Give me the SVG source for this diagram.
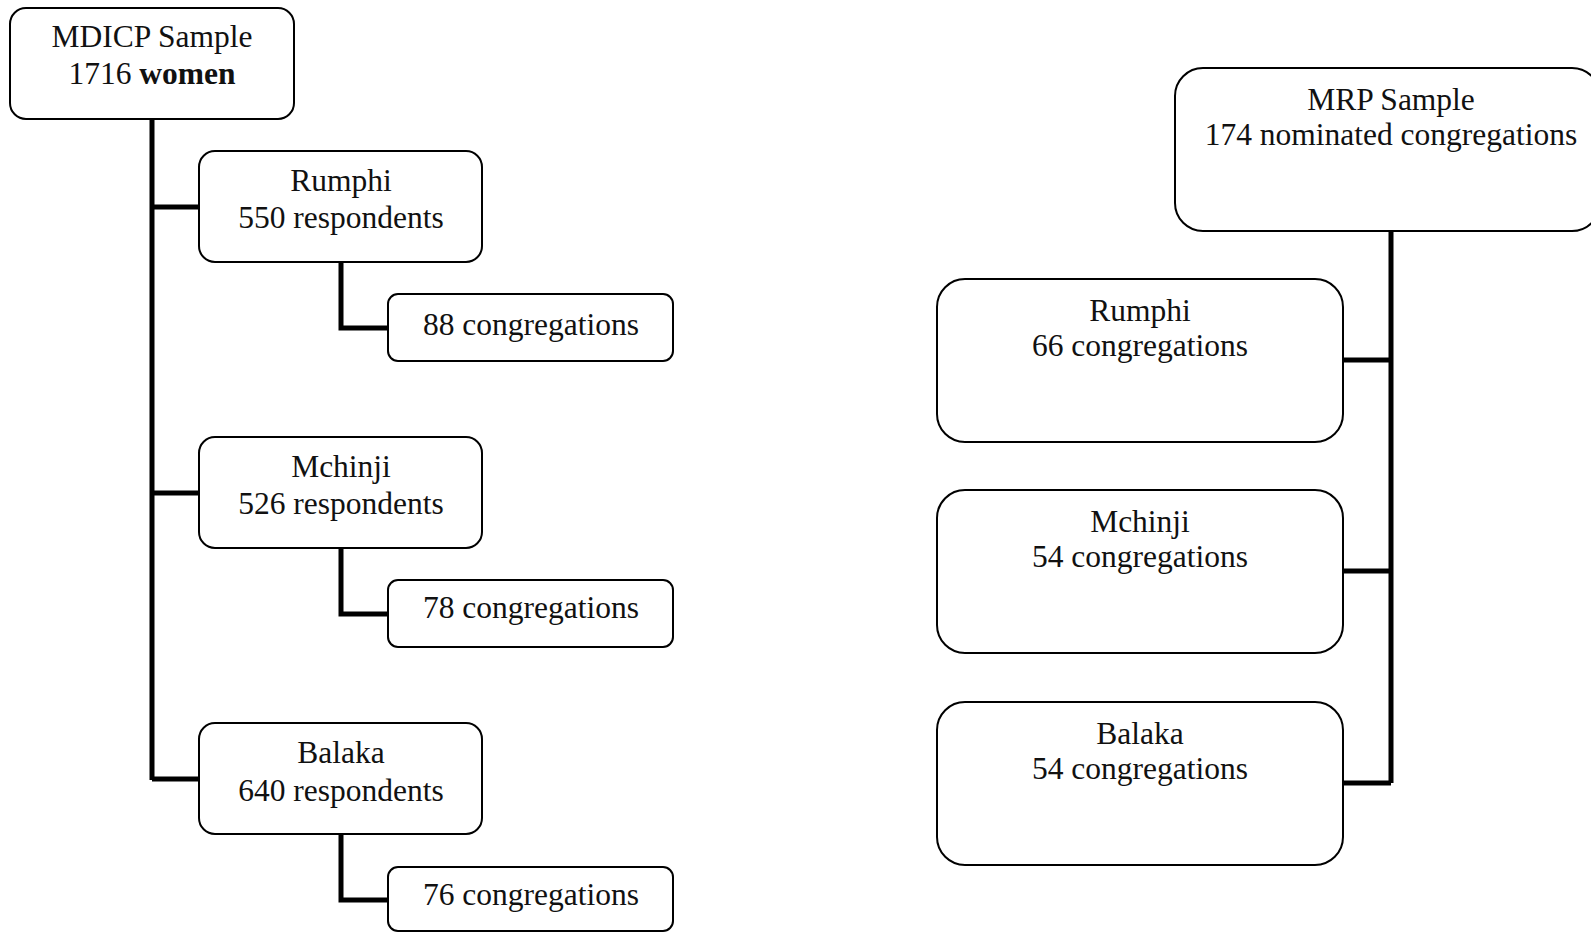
<svg xmlns="http://www.w3.org/2000/svg" width="1591" height="932" viewBox="0 0 1591 932">
<style>
.box{fill:#fff;stroke:#000;stroke-width:2}
.t{font-family:"Liberation Serif","Times New Roman",serif;font-size:31.5px;fill:#111;text-anchor:middle}
.b{font-weight:bold}
.c{fill:none;stroke:#000;stroke-width:5;stroke-linejoin:miter}
</style>
<rect width="1591" height="932" fill="#fff"/>
<g id="connectors">
<path class="c" d="M152,119 V780 M152,207 H199 M152,493 H199 M152,779 H199"/>
<path class="c" d="M341,262 V328 H388"/>
<path class="c" d="M341,548 V614 H388"/>
<path class="c" d="M341,834 V900 H388"/>
<path class="c" d="M1391,231 V783 M1343,360 H1391 M1343,571 H1391 M1343,783 H1391"/>
</g>
<g id="mdicp">
<rect class="box" x="10" y="8" width="284" height="111" rx="16"/>
<text class="t" x="152" y="47">MDICP Sample</text>
<text class="t" x="152" y="84">1716 <tspan class="b">women</tspan></text>
</g>
<g id="rumphi-l">
<rect class="box" x="199" y="151" width="283" height="111" rx="16"/>
<text class="t" x="341" y="191">Rumphi</text>
<text class="t" x="341" y="228">550 respondents</text>
</g>
<g id="rumphi-l-cong">
<rect class="box" x="388" y="294" width="285" height="67" rx="10"/>
<text class="t" x="531" y="335">88 congregations</text>
</g>
<g id="mchinji-l">
<rect class="box" x="199" y="437" width="283" height="111" rx="16"/>
<text class="t" x="341" y="477">Mchinji</text>
<text class="t" x="341" y="514">526 respondents</text>
</g>
<g id="mchinji-l-cong">
<rect class="box" x="388" y="580" width="285" height="67" rx="10"/>
<text class="t" x="531" y="618">78 congregations</text>
</g>
<g id="balaka-l">
<rect class="box" x="199" y="723" width="283" height="111" rx="16"/>
<text class="t" x="341" y="763">Balaka</text>
<text class="t" x="341" y="801">640 respondents</text>
</g>
<g id="balaka-l-cong">
<rect class="box" x="388" y="867" width="285" height="64" rx="10"/>
<text class="t" x="531" y="905">76 congregations</text>
</g>
<g id="mrp">
<rect class="box" x="1175" y="68" width="425" height="163" rx="28"/>
<text class="t" x="1391" y="110">MRP Sample</text>
<text class="t" x="1391" y="145">174 nominated congregations</text>
</g>
<g id="rumphi-r">
<rect class="box" x="937" y="279" width="406" height="163" rx="28"/>
<text class="t" x="1140" y="321">Rumphi</text>
<text class="t" x="1140" y="356">66 congregations</text>
</g>
<g id="mchinji-r">
<rect class="box" x="937" y="490" width="406" height="163" rx="28"/>
<text class="t" x="1140" y="532">Mchinji</text>
<text class="t" x="1140" y="567">54 congregations</text>
</g>
<g id="balaka-r">
<rect class="box" x="937" y="702" width="406" height="163" rx="28"/>
<text class="t" x="1140" y="744">Balaka</text>
<text class="t" x="1140" y="779">54 congregations</text>
</g>
</svg>
